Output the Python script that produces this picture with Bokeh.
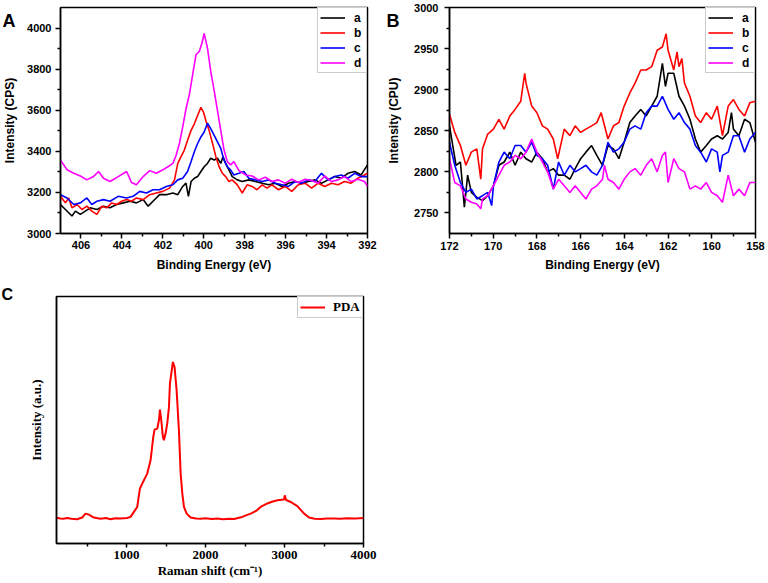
from bokeh.plotting import figure
from bokeh.models import Range1d, FixedTicker, Label
from bokeh.layouts import column, row
from bokeh.embed import file_html
from bokeh.resources import INLINE

# ---------------- Panel A : XPS N1s ----------------
A_a_x = [407.0, 406.76, 406.60, 406.44, 406.27, 406.03, 405.79, 405.55, 405.22, 404.90,
         404.58, 404.26, 403.93, 403.61, 403.29, 402.96, 402.72, 402.48, 402.16, 401.83,
         401.51, 401.27, 401.03, 400.87, 400.75, 400.62, 400.46, 400.30, 400.14, 399.98,
         399.82, 399.66, 399.49, 399.33, 399.17, 399.06, 398.93, 398.77, 398.61, 398.36,
         398.12, 397.80, 397.48, 397.15, 396.83, 396.51, 396.18, 395.86, 395.54, 395.22,
         394.89, 394.57, 394.25, 393.92, 393.60, 393.28, 392.96, 392.63, 392.31, 392.00]
A_a_y = [3141, 3117, 3101, 3085, 3109, 3093, 3109, 3125, 3117, 3133,
         3125, 3141, 3149, 3157, 3149, 3165, 3133, 3157, 3189, 3189,
         3197, 3189, 3229, 3245, 3181, 3253, 3269, 3277, 3302, 3325,
         3341, 3366, 3358, 3366, 3341, 3374, 3341, 3310, 3277, 3261,
         3253, 3261, 3253, 3245, 3237, 3245, 3229, 3245, 3253, 3245,
         3253, 3261, 3245, 3261, 3277, 3269, 3293, 3302, 3285, 3334]

A_b_x = [407.0, 406.76, 406.60, 406.44, 406.19, 405.95, 405.71, 405.47, 405.22, 404.98,
         404.74, 404.50, 404.26, 404.01, 403.77, 403.53, 403.29, 402.96, 402.64, 402.32,
         402.00, 401.67, 401.43, 401.27, 401.11, 400.95, 400.79, 400.62, 400.46, 400.30,
         400.14, 400.01, 399.90, 399.74, 399.57, 399.41, 399.25, 399.09, 398.93, 398.77,
         398.61, 398.36, 398.12, 397.88, 397.64, 397.40, 397.15, 396.91, 396.67, 396.35,
         396.02, 395.70, 395.38, 395.05, 394.73, 394.41, 394.09, 393.76, 393.44, 393.12,
         392.80, 392.47, 392.15, 392.00]
A_b_y = [3181, 3149, 3173, 3125, 3141, 3117, 3133, 3109, 3093, 3133,
         3125, 3149, 3141, 3157, 3165, 3157, 3173, 3165, 3189, 3197,
         3205, 3221, 3261, 3341, 3374, 3406, 3454, 3502, 3534, 3574,
         3614, 3590, 3550, 3502, 3438, 3374, 3325, 3293, 3277, 3253,
         3261, 3237, 3197, 3237, 3229, 3213, 3237, 3221, 3237, 3213,
         3229, 3205, 3237, 3245, 3221, 3245, 3229, 3245, 3237, 3253,
         3245, 3269, 3285, 3293]

A_c_x = [407.0, 406.68, 406.35, 406.03, 405.71, 405.47, 405.22, 404.90, 404.58, 404.18,
         403.77, 403.45, 403.13, 402.80, 402.48, 402.16, 401.83, 401.51, 401.27, 401.03,
         400.79, 400.62, 400.46, 400.30, 400.14, 399.98, 399.82, 399.66, 399.49, 399.33,
         399.17, 399.01, 398.85, 398.69, 398.53, 398.28, 398.04, 397.80, 397.48, 397.15,
         396.83, 396.51, 396.18, 395.86, 395.54, 395.22, 394.89, 394.57, 394.25, 393.92,
         393.60, 393.28, 392.96, 392.63, 392.31, 392.00]
A_c_y = [3189, 3173, 3141, 3149, 3173, 3141, 3157, 3165, 3157, 3181,
         3173, 3181, 3205, 3197, 3213, 3213, 3229, 3237, 3261, 3269,
         3302, 3350, 3398, 3438, 3470, 3494, 3537, 3510, 3478, 3446,
         3414, 3357, 3325, 3310, 3285, 3293, 3302, 3269, 3261, 3253,
         3261, 3245, 3237, 3229, 3253, 3245, 3261, 3253, 3293, 3261,
         3277, 3285, 3269, 3293, 3277, 3277]

A_d_x = [407.0, 406.68, 406.35, 406.03, 405.71, 405.39, 405.14, 404.90, 404.58, 404.18,
         403.77, 403.53, 403.29, 402.96, 402.64, 402.32, 402.00, 401.67, 401.51, 401.35,
         401.19, 401.03, 400.87, 400.70, 400.54, 400.38, 400.22, 400.09, 399.98, 399.82,
         399.66, 399.49, 399.33, 399.17, 399.01, 398.85, 398.69, 398.53, 398.28, 397.96,
         397.64, 397.31, 396.99, 396.67, 396.35, 396.02, 395.70, 395.38, 395.05, 394.73,
         394.41, 394.09, 393.76, 393.44, 393.12, 392.80, 392.47, 392.15, 392.00]
A_d_y = [3357, 3310, 3293, 3280, 3261, 3277, 3302, 3269, 3253, 3277,
         3302, 3248, 3237, 3277, 3306, 3293, 3310, 3330, 3341, 3381,
         3438, 3518, 3606, 3678, 3774, 3870, 3886, 3926, 3974, 3902,
         3790, 3694, 3598, 3502, 3406, 3350, 3334, 3350, 3306, 3285,
         3280, 3261, 3274, 3253, 3261, 3245, 3264, 3248, 3264, 3258,
         3245, 3280, 3253, 3261, 3277, 3253, 3264, 3253, 3229]

A_xticks = [392, 394, 396, 398, 400, 402, 404, 406]
A_xminor = [393, 395, 397, 399, 401, 403, 405]
A_yticks = [3000, 3200, 3400, 3600, 3800, 4000]
A_yminor = [3100, 3300, 3500, 3700, 3900]

# ---------------- Panel B : XPS S2p ----------------
B_a_x = [172.00, 171.85, 171.70, 171.50, 171.32, 171.17, 171.00, 170.75, 170.49, 170.25,
         169.99, 169.74, 169.50, 169.24, 169.00, 168.74, 168.50, 168.24, 168.00, 167.75,
         167.51, 167.25, 167.01, 166.75, 166.49, 166.25, 166.00, 165.76, 165.50, 165.26,
         165.00, 164.75, 164.50, 164.25, 164.01, 163.75, 163.51, 163.25, 163.00, 162.75,
         162.50, 162.26, 162.12, 162.00, 161.74, 161.50, 161.25, 161.00, 160.75, 160.51,
         160.25, 160.01, 159.75, 159.51, 159.25, 159.10, 159.01, 158.76, 158.50, 158.26,
         158.00]
B_a_y = [2856, 2832, 2808, 2812, 2757, 2796, 2775, 2769, 2765, 2771,
         2783, 2808, 2812, 2824, 2808, 2824, 2816, 2812, 2824, 2816,
         2800, 2804, 2796, 2796, 2791, 2804, 2816, 2824, 2832, 2820,
         2808, 2832, 2828, 2816, 2836, 2860, 2868, 2876, 2868, 2880,
         2892, 2932, 2904, 2920, 2920, 2892, 2880, 2864, 2840, 2824,
         2832, 2840, 2844, 2840, 2848, 2872, 2852, 2844, 2864, 2860,
         2836]

B_b_x = [172.00, 171.76, 171.50, 171.25, 171.00, 170.75, 170.57, 170.49, 170.25, 169.99,
         169.74, 169.50, 169.24, 169.00, 168.74, 168.56, 168.50, 168.24, 168.00, 167.75,
         167.51, 167.25, 167.05, 166.75, 166.49, 166.25, 166.00, 165.76, 165.50, 165.26,
         165.06, 164.75, 164.50, 164.25, 164.01, 163.75, 163.51, 163.25, 163.00, 162.75,
         162.50, 162.26, 162.09, 162.00, 161.74, 161.59, 161.50, 161.37, 161.25, 161.00,
         160.75, 160.51, 160.25, 160.01, 159.75, 159.51, 159.25, 159.01, 158.76, 158.50,
         158.26, 158.00]
B_b_y = [2870, 2848, 2832, 2808, 2824, 2828, 2791, 2828, 2846, 2852,
         2864, 2852, 2868, 2876, 2886, 2920, 2908, 2880, 2872, 2856,
         2852, 2840, 2816, 2852, 2844, 2856, 2848, 2852, 2856, 2860,
         2872, 2840, 2856, 2860, 2880, 2896, 2908, 2924, 2924, 2928,
         2948, 2952, 2968, 2948, 2924, 2946, 2928, 2938, 2908, 2892,
         2868, 2860, 2872, 2864, 2880, 2844, 2880, 2888, 2876, 2868,
         2884, 2886]

B_c_x = [172.00, 171.76, 171.50, 171.25, 171.00, 170.75, 170.49, 170.25, 170.07, 169.99,
         169.74, 169.50, 169.24, 169.00, 168.74, 168.50, 168.24, 168.00, 167.75, 167.51,
         167.25, 167.01, 166.75, 166.49, 166.25, 166.00, 165.76, 165.50, 165.26, 165.00,
         164.75, 164.50, 164.25, 164.01, 163.75, 163.51, 163.25, 163.00, 162.75, 162.50,
         162.26, 162.00, 161.74, 161.50, 161.25, 161.00, 160.75, 160.51, 160.25, 160.01,
         159.75, 159.63, 159.51, 159.25, 159.01, 158.76, 158.50, 158.26, 158.00]
B_c_y = [2836, 2808, 2787, 2775, 2779, 2767, 2771, 2775, 2759, 2783,
         2812, 2824, 2816, 2832, 2832, 2824, 2836, 2820, 2816, 2808,
         2779, 2812, 2796, 2808, 2800, 2804, 2808, 2800, 2796, 2808,
         2836, 2824, 2828, 2836, 2852, 2856, 2852, 2872, 2880, 2880,
         2892, 2876, 2864, 2872, 2860, 2852, 2832, 2824, 2812, 2828,
         2824, 2800, 2820, 2824, 2844, 2844, 2824, 2840, 2848]

B_d_x = [172.00, 171.76, 171.50, 171.25, 171.00, 170.75, 170.57, 170.49, 170.25, 169.99,
         169.74, 169.50, 169.24, 169.00, 168.74, 168.50, 168.24, 168.00, 167.75, 167.51,
         167.25, 167.01, 166.75, 166.49, 166.25, 166.00, 165.76, 165.50, 165.26, 165.00,
         164.91, 164.75, 164.50, 164.25, 164.01, 163.75, 163.51, 163.25, 163.00, 162.75,
         162.50, 162.26, 162.12, 162.00, 161.74, 161.50, 161.25, 161.00, 160.75, 160.51,
         160.25, 160.01, 159.75, 159.51, 159.25, 159.01, 158.76, 158.50, 158.26, 158.00]
B_d_y = [2816, 2787, 2783, 2767, 2763, 2761, 2755, 2767, 2771, 2783,
         2796, 2808, 2812, 2820, 2816, 2824, 2840, 2824, 2812, 2800,
         2779, 2791, 2783, 2775, 2783, 2775, 2767, 2779, 2783, 2791,
         2808, 2791, 2787, 2779, 2791, 2800, 2804, 2796, 2808, 2816,
         2800, 2820, 2824, 2787, 2816, 2804, 2800, 2779, 2783, 2779,
         2787, 2775, 2771, 2763, 2796, 2771, 2779, 2771, 2787, 2787]

B_xticks = [158, 160, 162, 164, 166, 168, 170, 172]
B_xminor = [159, 161, 163, 165, 167, 169, 171]
B_yticks = [2750, 2800, 2850, 2900, 2950, 3000]
B_yminor = [2775, 2825, 2875, 2925, 2975]

# ---------------- Panel C : Raman ----------------
C_x = [113, 160, 200, 248, 300, 375, 438, 480, 523, 586,
       670, 740, 797, 860, 924, 1008, 1051, 1093, 1135, 1169,
       1199, 1262, 1304, 1338, 1355, 1389, 1410, 1423, 1439, 1461,
       1473, 1494, 1515, 1537, 1549, 1566, 1587, 1608, 1634, 1663,
       1685, 1706, 1727, 1761, 1811, 1880, 1938, 2000, 2080, 2149,
       2220, 2300, 2360, 2450, 2520, 2572, 2640, 2698, 2783, 2850,
       2910, 2994, 3003, 3020, 3079, 3163, 3248, 3311, 3380, 3459,
       3540, 3628, 3700, 3797, 3900, 4000]
C_y = [104, 101, 100, 103, 100, 98, 105, 121, 117, 105,
       100, 103, 98, 102, 101, 103, 108, 128, 148, 222,
       243, 283, 337, 431, 461, 465, 499, 542, 500, 430,
       418, 445, 485, 553, 647, 687, 735, 714, 620, 458,
       283, 202, 148, 121, 105, 101, 100, 102, 99, 101,
       98, 100, 99, 106, 115, 121, 132, 148, 162, 170,
       175, 178, 195, 176, 168, 151, 121, 105, 100, 99,
       101, 101, 100, 102, 101, 103]
C_xticks = [1000, 2000, 3000, 4000]
C_xminor = [500, 1500, 2500, 3500]

SANS = "Liberation Sans"
SERIF = "Liberation Serif"
COLORS = {"a": "#000000", "b": "#FF0000", "c": "#0000FF", "d": "#FF00FF"}


def style(p, font, tick_size, label_size, tick_out=5, minor_out=3):
    p.outline_line_color = "black"
    p.outline_line_width = 1.5
    p.grid.visible = False
    p.background_fill_color = "white"
    p.border_fill_color = "white"
    for ax in p.axis:
        ax.axis_line_width = 1.5
        ax.axis_line_color = "black"
        ax.major_tick_line_width = 1.5
        ax.minor_tick_line_width = 1.5
        ax.major_tick_line_color = "black"
        ax.minor_tick_line_color = "black"
        ax.major_tick_in = 0
        ax.minor_tick_in = 0
        ax.major_tick_out = tick_out
        ax.minor_tick_out = minor_out
        ax.major_label_text_font = font
        ax.major_label_text_font_style = "bold"
        ax.major_label_text_font_size = tick_size
        ax.major_label_text_color = "black"
        ax.axis_label_text_font = font
        ax.axis_label_text_font_style = "bold"
        ax.axis_label_text_font_size = label_size
        ax.axis_label_text_color = "black"


def style_legend(lg, font, size, glyph_w, standoff, lab_w, lab_h):
    lg.location = "top_right"
    lg.margin = 0
    lg.padding = 2
    lg.spacing = 0
    lg.glyph_width = glyph_w
    lg.glyph_height = lab_h
    lg.label_height = lab_h
    lg.label_width = lab_w
    lg.label_standoff = standoff
    lg.label_text_font = font
    lg.label_text_font_style = "bold"
    lg.label_text_font_size = size
    lg.label_text_color = "black"
    lg.border_line_color = "#9a9a9a"
    lg.border_line_width = 1
    lg.background_fill_alpha = 1.0


def panel_letter(p, text, x, y, size):
    # placed in a side panel so that it is not clipped to the plot frame;
    # canvas units: x from the left edge, y from the top edge
    p.add_layout(Label(x=x, y=y, x_units="canvas", y_units="canvas", text=text,
                       text_font=SANS, text_font_style="bold", text_font_size=size,
                       text_baseline="alphabetic", text_align="left", text_color="black"),
                 "right")


ROW1_H = 278
ROW2_H = 305

# ---- A ----
pA = figure(width=384, height=ROW1_H, x_range=Range1d(407, 392), y_range=Range1d(3000, 4100),
            output_backend="svg", toolbar_location=None,
            min_border_left=56, min_border_right=17, min_border_top=4, min_border_bottom=45)
for key, xs, ys in [("a", A_a_x, A_a_y), ("b", A_b_x, A_b_y), ("c", A_c_x, A_c_y), ("d", A_d_x, A_d_y)]:
    pA.line(xs, ys, line_color=COLORS[key], line_width=1.6, legend_label=key)
pA.xaxis.ticker = FixedTicker(ticks=A_xticks, minor_ticks=A_xminor)
pA.yaxis.ticker = FixedTicker(ticks=A_yticks, minor_ticks=A_yminor)
pA.xaxis.axis_label = "Binding Energy (eV)"
pA.yaxis.axis_label = "Intensity (CPS)"
style(pA, SANS, "11px", "12px")
pA.xaxis.major_label_standoff = 2
pA.xaxis.axis_label_standoff = 6
pA.yaxis.major_label_standoff = 4
pA.yaxis.axis_label_standoff = 7
style_legend(pA.legend[0], SANS, "12px", 25, 9, 10, 15)
panel_letter(pA, "A", 2, 20, "18px")

# ---- B ----
pB = figure(width=384, height=ROW1_H, x_range=Range1d(172, 158), y_range=Range1d(2725, 3000),
            output_backend="svg", toolbar_location=None,
            min_border_left=63, min_border_right=11, min_border_top=7, min_border_bottom=44)
for key, xs, ys in [("a", B_a_x, B_a_y), ("b", B_b_x, B_b_y), ("c", B_c_x, B_c_y), ("d", B_d_x, B_d_y)]:
    pB.line(xs, ys, line_color=COLORS[key], line_width=1.6, legend_label=key)
pB.xaxis.ticker = FixedTicker(ticks=B_xticks, minor_ticks=B_xminor)
pB.yaxis.ticker = FixedTicker(ticks=B_yticks, minor_ticks=B_yminor)
pB.xaxis.axis_label = "Binding Energy (eV)"
pB.yaxis.axis_label = "Intensity (CPU)"
style(pB, SANS, "11px", "12px")
pB.xaxis.major_label_standoff = 3
pB.xaxis.axis_label_standoff = 5
pB.yaxis.major_label_standoff = 6
pB.yaxis.axis_label_standoff = 10
style_legend(pB.legend[0], SANS, "12px", 25, 9, 10, 15)
panel_letter(pB, "B", 2, 20, "18px")

# ---- C ----
pC = figure(width=384, height=ROW2_H, x_range=Range1d(113, 4000), y_range=Range1d(0, 1000),
            output_backend="svg", toolbar_location=None,
            min_border_left=56, min_border_right=21, min_border_top=18, min_border_bottom=40)
pC.line(C_x, C_y, line_color="#FF0000", line_width=2, legend_label="PDA")
pC.xaxis.ticker = FixedTicker(ticks=C_xticks, minor_ticks=C_xminor)
pC.yaxis.ticker = FixedTicker(ticks=[], minor_ticks=[])
pC.xaxis.axis_label = "Raman shift (cm\u207b\u00b9)"
pC.yaxis.axis_label = "Intensity (a.u.)"
style(pC, SERIF, "13px", "13px", tick_out=4, minor_out=3)
pC.xaxis.major_label_standoff = 3
pC.xaxis.axis_label_standoff = 1
pC.yaxis.major_tick_out = 0
pC.yaxis.minor_tick_out = 0
pC.yaxis.major_label_standoff = 0
pC.yaxis.axis_label_standoff = 13
style_legend(pC.legend[0], SERIF, "13px", 25, 8, 27, 16)
panel_letter(pC, "C", 1, 16, "16px")

layout = column(row(pA, pB), pC)
open("out.html", "w").write(file_html(layout, INLINE))
